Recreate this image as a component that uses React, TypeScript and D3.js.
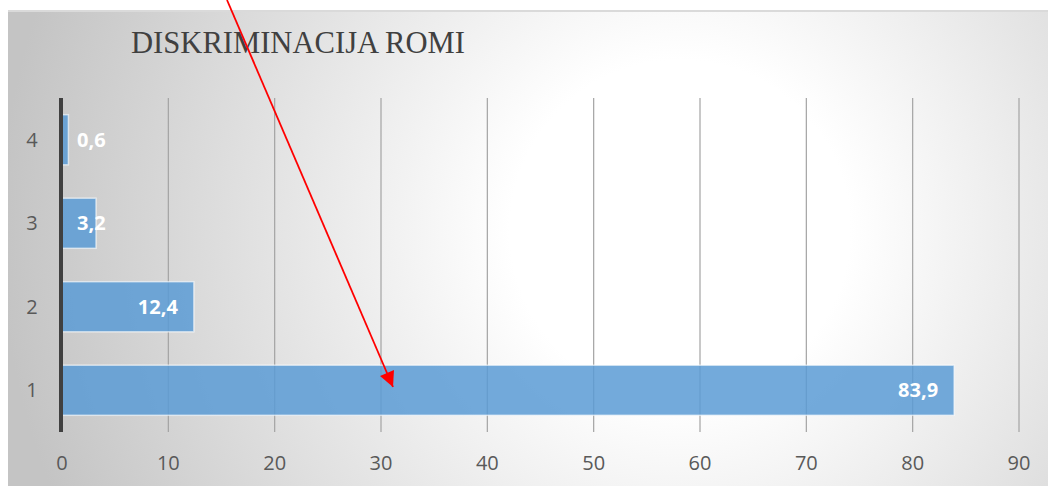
import React from "react";
import * as d3 from "d3";

const categories = ["1", "2", "3", "4"];
const values = [83.9, 12.4, 3.2, 0.6];
const labels = ["83,9", "12,4", "3,2", "0,6"];
const xTicks = [0, 10, 20, 30, 40, 50, 60, 70, 80, 90];
const title = "DISKRIMINACIJA ROMI";

const W = 1048;
const H = 486;

export default function App() {
  const x = d3.scaleLinear().domain([0, 90]).range([62, 1019]);
  const y = d3
    .scaleBand<string>()
    .domain([...categories].reverse())
    .range([98, 432])
    .paddingInner(0.4)
    .paddingOuter(0.2);
  const sans = "'Open Sans', 'Noto Sans', sans-serif";
  return (
    <svg
      width={W}
      height={H}
      style={{ position: "absolute", left: 0, top: 0, background: "#fff" }}
    >
      <defs>
        <radialGradient id="bg" gradientUnits="userSpaceOnUse" cx={680} cy={230} r={680}>
          <stop offset="0" stopColor="#ffffff" />
          <stop offset="0.25" stopColor="#ffffff" />
          <stop offset="1" stopColor="#c4c4c4" />
        </radialGradient>
        <marker
          id="arrow"
          viewBox="0 0 10 10"
          refX={10}
          refY={5}
          markerWidth={10}
          markerHeight={8.5}
          markerUnits="strokeWidth"
          orient="auto"
        >
          <path d="M0,0 L10,5 L0,10 z" fill="#ff0000" />
        </marker>
      </defs>
      <rect x={8} y={10} width={W - 8} height={H - 10} fill="url(#bg)" />
      <line x1={8} x2={W} y1={11} y2={11} stroke="#dadada" strokeWidth={2} />
      <text
        x={131}
        y={53}
        fontFamily="'Liberation Serif', 'DejaVu Serif', serif"
        fontSize={30.6}
        fill="#404040"
      >
        {title}
      </text>
      {xTicks.map((t) => (
        <g key={t}>
          {t !== 0 && (
            <line x1={x(t)} x2={x(t)} y1={98} y2={432} stroke="#a3a3a3" strokeWidth={1.2} />
          )}
          <text
            x={x(t)}
            y={470}
            textAnchor="middle"
            fontFamily={sans}
            fontSize={20}
            fill="#595959"
          >
            {t}
          </text>
        </g>
      ))}
      {categories.map((c, i) => {
        const y0 = y(c)!;
        const bw = y.bandwidth();
        const xe = x(values[i]);
        const estW = labels[i].length * 10.5;
        const inside = xe - 16 - estW >= x(0) + 15;
        return (
          <g key={c}>
            <rect
              x={x(0)}
              y={y0}
              width={xe - x(0)}
              height={bw}
              fill="#5b9bd5"
              fillOpacity={0.85}
              stroke="#ffffff"
              strokeOpacity={0.6}
              strokeWidth={1.5}
            />
            <text
              x={inside ? xe - 16 : x(0) + 15}
              y={y0 + bw / 2}
              dy="0.35em"
              textAnchor={inside ? "end" : "start"}
              fontFamily={sans}
              fontWeight="bold"
              fontSize={20}
              fill="#ffffff"
            >
              {labels[i]}
            </text>
            <text
              x={32}
              y={y0 + bw / 2}
              dy="0.35em"
              textAnchor="middle"
              fontFamily={sans}
              fontSize={20}
              fill="#595959"
            >
              {c}
            </text>
          </g>
        );
      })}
      <line x1={61} x2={61} y1={98} y2={432} stroke="#404040" strokeWidth={4} />
      <line
        x1={227}
        y1={0}
        x2={393}
        y2={387}
        stroke="#ff0000"
        strokeWidth={1.8}
        markerEnd="url(#arrow)"
      />
    </svg>
  );
}
